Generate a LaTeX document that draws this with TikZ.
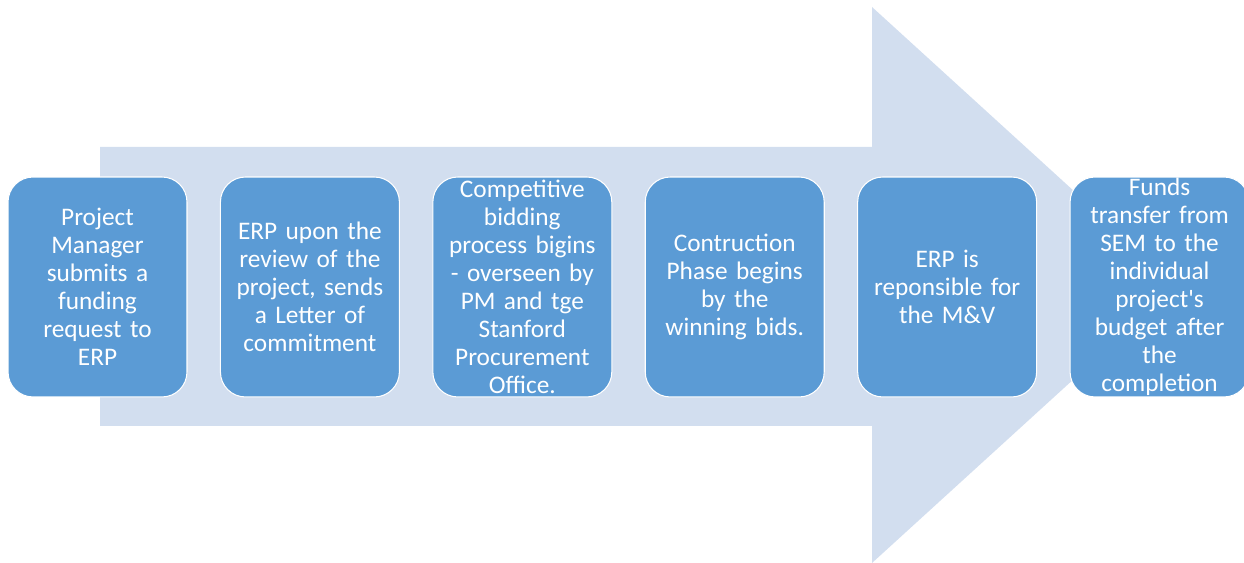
\documentclass[tikz,border=0pt]{standalone}
\usepackage{fontspec}
\newfontfamily\calibfont{Carlito}
\usetikzlibrary{positioning}
\definecolor{stepblue}{HTML}{5B9BD5}
\definecolor{arrowback}{HTML}{D2DEEF}

\begin{document}
\begin{tikzpicture}[x=0.02cm,y=0.02cm]
    \tikzset{
        stagebox/.style={fill=stepblue, draw=white, line width=0.6pt,
            rounded corners=0.5cm, minimum width=3.58cm, minimum height=4.4cm,
            text width=3.5cm, align=center, text=white, inner sep=0pt,
            font=\calibfont\fontsize{14.4}{15.9}\selectfont},
        node distance=0.648cm
    }
    \useasboundingbox (0,0) rectangle (1244,563);
    % big background arrow
    \fill[arrowback] (100,137) -- (872,137) -- (872,0) -- (1177,278)
        -- (872,556) -- (872,416) -- (100,416) -- cycle;
    % stages
    \node[stagebox] (submit) at (97.5,276) {Project\\Manager\\submits a\\funding\\request to\\ERP};
    \node[stagebox, right=of submit] (commit) {ERP upon the\\review of the\\project, sends\\a Letter of\\commitment};
    \node[stagebox, right=of commit] (bidding) {Competitive\\bidding\\process bigins\\- overseen by\\PM and tge\\Stanford\\Procurement\\Office.};
    \node[stagebox, right=of bidding] (construct) {Contruction\\Phase begins\\by the\\winning bids.};
    \node[stagebox, right=of construct] (mv) {ERP is\\reponsible for\\the M\&V};
    \node[stagebox, right=of mv] (funds) {Funds\\transfer from\\SEM to the\\individual\\project's\\budget after\\the\\completion};
\end{tikzpicture}
\end{document}
